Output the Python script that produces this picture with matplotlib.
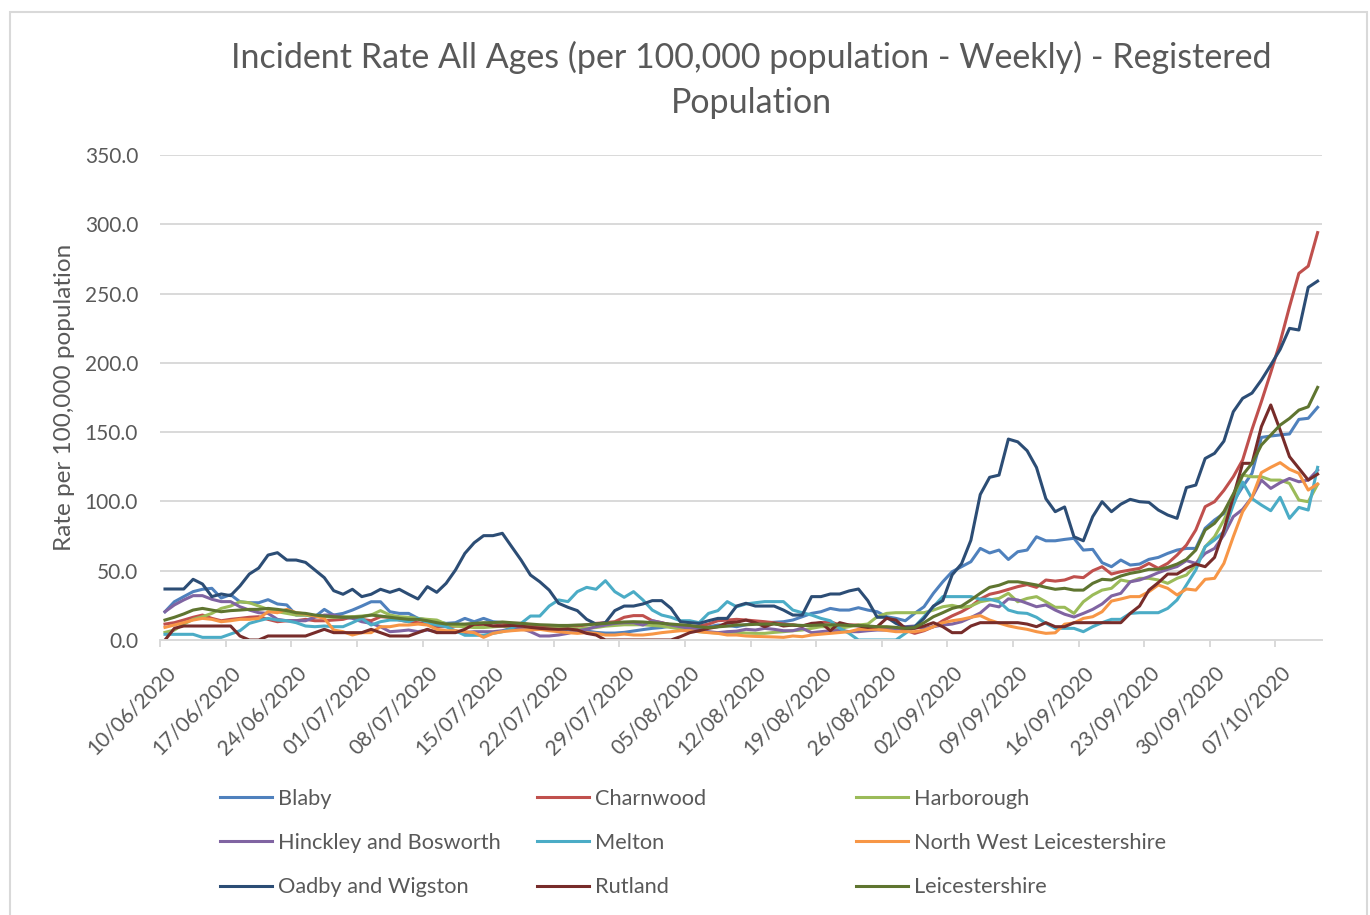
import numpy as np
import pandas as pd
import matplotlib.pyplot as plt
from matplotlib.patches import Rectangle
from matplotlib.ticker import FormatStrFormatter

plt.rcParams['font.family'] = ['Lato', 'DejaVu Sans']

# daily categories, 10/06/2020 .. 11/10/2020
dates = pd.date_range('2020-06-10', periods=124, freq='D')
date_labels = [d.strftime('%d/%m/%Y') for d in dates]

blaby = [20.4, 27.6, 31.3, 34.9, 36.6, 37.3, 30.3, 32.7, 27.6, 26.9,
         26.9, 29.1, 26.0, 25.3, 18.0, 18.0, 16.8, 22.1, 18.0, 19.2,
         21.6, 24.5, 27.6, 27.6, 20.4, 19.2, 19.2, 15.6, 14.4, 13.2,
         12.0, 12.5, 15.6, 13.2, 15.6, 13.2, 12.5, 11.5, 10.5, 9.5,
         8.5, 8.0, 8.0, 7.5, 7.0, 6.5, 5.5, 5.0, 5.0, 5.5,
         6.5, 7.5, 8.4, 9.0, 10.1, 9.6, 8.5, 9.0, 9.5, 10.8,
         10.5, 9.6, 11.0, 12.0, 12.5, 12.8, 13.2, 14.4, 16.8, 19.2,
         20.4, 22.8, 21.6, 21.6, 23.3, 21.6, 20.4, 16.8, 15.6, 13.9,
         19.2, 24.0, 33.7, 42.0, 49.3, 52.9, 56.5, 66.1, 62.8, 64.9,
         58.1, 63.7, 64.9, 74.5, 71.6, 71.6, 72.6, 73.4, 64.9, 65.4,
         55.8, 52.9, 57.7, 54.1, 54.8, 58.2, 59.6, 62.5, 64.9, 66.1,
         66.1, 80.6, 86.6, 91.3, 99.8, 110.6, 120.3, 146.2, 147.2, 148.0,
         148.7, 159.2, 160.0, 167.9]

charnwood = [11.5, 12.5, 14.4, 16.4, 18.0, 15.6, 13.9, 14.9, 15.6, 16.4,
             16.8, 14.9, 13.2, 13.9, 13.9, 14.9, 13.9, 13.9, 14.4, 14.9,
             16.8, 14.9, 13.9, 16.8, 16.4, 14.4, 13.2, 12.5, 11.5, 9.6,
             9.6, 10.0, 10.5, 11.0, 11.5, 10.0, 11.0, 12.0, 12.0, 11.0,
             10.0, 9.0, 9.0, 9.5, 10.0, 11.0, 12.0, 12.5, 13.2, 16.4,
             17.6, 17.6, 13.9, 12.5, 10.8, 10.1, 9.6, 10.1, 11.5, 13.9,
             14.4, 14.9, 14.4, 13.8, 13.2, 12.4, 11.5, 10.8, 10.1, 11.3,
             12.5, 13.2, 10.8, 10.8, 10.8, 9.6, 8.4, 8.4, 8.4, 7.2,
             4.8, 6.7, 9.6, 13.9, 17.4, 20.4, 24.3, 29.5, 33.0, 34.5,
             36.5, 38.5, 40.0, 38.0, 43.3, 42.5, 43.3, 45.7, 45.0, 50.0,
             52.9, 47.6, 49.3, 50.5, 51.7, 55.3, 51.7, 55.3, 61.3, 68.5,
             79.4, 96.2, 99.8, 108.0, 117.8, 129.9, 152.0, 172.0, 193.0, 215.0,
             240.5, 264.6, 269.8, 294.0]

harborough = [5.5, 7.2, 11.5, 14.9, 16.8, 19.2, 22.8, 24.5, 27.6, 26.9,
              24.5, 22.1, 20.4, 19.2, 18.0, 18.0, 16.8, 16.8, 16.4, 16.8,
              16.8, 17.3, 18.0, 21.2, 18.0, 16.8, 16.4, 15.6, 14.9, 14.4,
              11.5, 10.0, 9.5, 9.0, 9.0, 9.5, 10.0, 9.0, 8.0, 7.5,
              8.0, 8.5, 9.0, 8.5, 8.0, 8.5, 9.0, 10.0, 10.5, 11.0,
              11.0, 11.0, 10.5, 10.0, 9.0, 8.0, 7.0, 6.0, 5.5, 5.0,
              5.5, 5.5, 5.0, 4.8, 4.8, 5.5, 6.0, 6.7, 7.2, 8.4,
              9.6, 9.6, 8.4, 9.6, 10.8, 11.5, 16.8, 19.2, 19.7, 19.7,
              19.7, 19.7, 21.6, 24.0, 25.0, 23.5, 24.5, 27.6, 28.9, 30.0,
              33.7, 27.6, 30.0, 31.3, 27.6, 23.6, 23.6, 19.2, 27.6, 32.5,
              36.0, 37.3, 43.3, 42.0, 44.5, 44.5, 43.3, 40.9, 44.5, 46.9,
              54.1, 67.3, 74.5, 86.6, 101.0, 119.0, 117.8, 117.8, 115.4, 115.4,
              113.0, 101.0, 99.8, 112.3]

hinckley = [20.4, 25.3, 28.9, 32.0, 32.0, 29.4, 27.7, 27.7, 24.0, 21.6,
            19.7, 19.2, 14.9, 13.9, 13.9, 13.9, 16.4, 18.0, 18.0, 16.4,
            15.6, 13.2, 12.0, 9.6, 6.0, 6.5, 7.2, 6.0, 7.2, 6.0,
            6.0, 6.5, 5.3, 6.0, 6.0, 6.0, 6.7, 8.4, 8.4, 6.0,
            2.9, 2.9, 3.6, 4.8, 6.7, 7.7, 9.6, 10.8, 12.0, 12.5,
            12.5, 10.8, 13.9, 12.5, 10.8, 9.6, 8.4, 7.2, 6.0, 5.3,
            6.0, 6.4, 7.7, 7.2, 8.4, 7.7, 6.7, 6.7, 8.4, 5.3,
            6.0, 6.7, 7.2, 6.0, 6.0, 6.7, 7.2, 7.2, 7.7, 9.6,
            10.1, 8.4, 9.6, 10.8, 11.5, 13.2, 16.2, 19.5, 25.3, 23.9,
            29.7, 28.9, 26.5, 24.0, 25.3, 21.6, 18.6, 16.6, 19.2, 22.1,
            26.0, 31.8, 33.7, 42.0, 43.3, 45.7, 48.6, 51.0, 53.0, 57.3,
            55.3, 62.5, 66.1, 75.8, 89.0, 94.3, 103.0, 115.4, 109.4, 113.5,
            116.6, 114.2, 115.4, 122.6]

melton = [4.1, 4.1, 4.1, 4.1, 1.9, 1.9, 1.9, 4.3, 6.7, 12.0,
          13.9, 15.6, 14.4, 13.9, 12.5, 10.1, 9.6, 10.1, 9.6, 9.6,
          12.5, 15.6, 10.8, 13.2, 14.4, 14.4, 13.2, 15.6, 12.5, 10.8,
          9.6, 6.7, 3.4, 3.4, 3.4, 4.8, 6.0, 8.4, 12.0, 17.3,
          17.3, 24.5, 28.9, 27.7, 34.9, 38.0, 36.6, 42.8, 34.9, 30.8,
          34.9, 28.9, 21.6, 18.0, 16.4, 13.9, 13.9, 12.5, 19.2, 21.2,
          27.7, 24.0, 26.0, 26.9, 27.7, 27.7, 27.7, 21.6, 19.7, 18.0,
          15.6, 13.9, 8.4, 4.8, 0.0, 0.0, 0.0, 0.0, 0.0, 4.8,
          9.6, 16.8, 24.0, 31.3, 31.3, 31.3, 31.3, 29.4, 29.4, 27.7,
          21.6, 19.7, 19.2, 16.4, 12.0, 8.4, 8.4, 8.4, 6.0, 9.6,
          12.5, 14.9, 14.9, 19.2, 19.7, 19.7, 19.7, 22.8, 28.9, 39.7,
          50.5, 67.3, 72.2, 78.2, 97.4, 114.0, 102.0, 97.4, 93.3, 103.0,
          87.8, 95.7, 93.8, 124.6]

nw_leics = [9.1, 10.8, 12.5, 14.4, 15.6, 14.9, 13.2, 13.9, 14.9, 14.9,
            15.6, 20.4, 19.7, 22.1, 19.7, 18.8, 17.3, 15.6, 7.2, 6.0,
            3.6, 5.3, 5.3, 9.6, 9.6, 10.8, 10.8, 11.5, 10.8, 7.7,
            6.7, 6.7, 6.0, 5.3, 1.9, 4.8, 6.0, 6.7, 7.2, 7.2,
            7.7, 6.7, 6.0, 5.3, 4.8, 5.3, 4.8, 3.6, 3.6, 4.3,
            3.6, 3.6, 4.3, 5.3, 6.0, 6.7, 6.7, 6.0, 5.3, 4.8,
            3.6, 3.6, 2.9, 2.6, 2.4, 2.2, 1.9, 2.9, 2.4, 3.6,
            4.2, 4.8, 5.4, 6.0, 7.7, 7.7, 7.7, 6.9, 6.0, 6.0,
            6.0, 7.2, 9.6, 12.5, 13.9, 14.9, 16.4, 17.6, 14.4, 12.2,
            10.2, 8.8, 7.7, 6.0, 4.8, 5.2, 11.4, 12.3, 15.6, 16.8,
            20.4, 28.1, 29.6, 31.3, 31.3, 34.9, 39.7, 37.3, 32.5, 36.8,
            36.0, 43.8, 44.5, 55.3, 74.5, 92.6, 103.0, 120.8, 124.6, 128.0,
            123.2, 120.3, 108.2, 112.6]

oadby = [36.8, 36.8, 36.8, 43.8, 40.4, 31.3, 33.2, 32.0, 39.0, 47.6,
         51.9, 61.3, 63.0, 57.7, 57.7, 56.0, 50.5, 45.0, 35.6, 33.0,
         36.6, 31.3, 33.0, 36.6, 34.4, 36.6, 33.0, 29.6, 38.5, 34.4,
         40.9, 50.5, 62.5, 70.2, 75.3, 75.3, 77.0, 67.3, 57.7, 46.9,
         42.0, 36.0, 26.5, 23.6, 21.2, 14.9, 11.5, 12.5, 21.2, 24.5,
         24.5, 26.0, 28.4, 28.4, 22.8, 13.2, 12.5, 12.0, 13.9, 15.6,
         15.6, 24.5, 26.5, 24.5, 24.5, 24.5, 21.6, 18.0, 18.0, 31.3,
         31.3, 33.2, 33.2, 35.4, 36.8, 28.4, 16.4, 16.4, 12.0, 9.1,
         9.5, 15.6, 24.5, 28.4, 47.0, 55.0, 72.0, 105.0, 117.4, 119.0,
         145.0, 143.0, 136.6, 124.5, 102.0, 92.6, 96.0, 74.5, 71.6, 89.0,
         99.8, 92.6, 98.0, 101.5, 99.8, 99.3, 93.8, 90.2, 87.8, 110.0,
         111.8, 131.0, 134.7, 143.5, 164.7, 174.4, 178.2, 187.6, 198.4, 209.7,
         224.9, 223.7, 254.5, 259.0]

rutland = [0.0, 8.4, 10.1, 10.1, 10.1, 10.1, 10.1, 10.1, 2.9, 0.0,
           0.0, 2.9, 2.9, 2.9, 2.9, 2.9, 5.3, 7.7, 5.3, 5.3,
           5.3, 5.3, 7.7, 5.3, 2.9, 2.9, 2.9, 5.3, 7.7, 5.3,
           5.3, 5.3, 7.7, 11.5, 11.5, 10.1, 10.1, 10.5, 10.1, 9.1,
           8.4, 8.0, 7.7, 8.0, 7.2, 4.8, 3.6, 0.0, 0.0, 0.0,
           0.0, 0.0, 0.0, 0.0, 0.0, 2.4, 5.3, 6.7, 8.4, 9.6,
           12.5, 12.8, 14.4, 12.5, 9.6, 12.0, 10.1, 10.8, 10.1, 12.0,
           12.5, 6.7, 12.5, 10.8, 10.1, 9.1, 9.6, 15.6, 14.4, 8.4,
           8.4, 10.1, 12.5, 9.6, 5.3, 5.3, 10.1, 12.5, 12.5, 12.5,
           12.5, 12.5, 11.5, 9.6, 12.5, 9.6, 9.6, 12.5, 12.5, 12.5,
           12.5, 12.5, 12.5, 19.2, 24.5, 36.0, 41.4, 47.6, 47.6, 51.7,
           54.8, 52.9, 59.6, 79.4, 103.4, 127.5, 127.5, 154.0, 169.6, 151.5,
           132.3, 123.9, 115.4, 119.7]

leics = [14.4, 16.4, 18.8, 21.6, 22.8, 21.6, 20.4, 21.2, 21.6, 22.1,
         22.1, 22.8, 22.1, 21.2, 19.7, 19.2, 18.0, 17.3, 16.8, 16.4,
         16.4, 16.8, 18.0, 17.3, 16.4, 15.6, 14.9, 14.9, 13.9, 12.5,
         11.5, 11.5, 11.5, 12.0, 12.5, 12.5, 13.0, 12.5, 12.0, 11.5,
         11.0, 10.8, 10.5, 10.5, 10.8, 11.0, 11.5, 12.0, 12.5, 13.0,
         13.2, 13.0, 12.5, 12.0, 11.5, 11.0, 10.5, 9.5, 9.0, 9.5,
         10.0, 10.8, 11.0, 11.3, 11.5, 11.5, 11.0, 10.8, 10.5, 10.5,
         10.8, 11.0, 10.8, 10.5, 10.5, 10.1, 9.6, 9.6, 9.1, 8.4,
         9.0, 12.5, 16.8, 19.7, 22.8, 24.5, 28.9, 33.7, 38.0, 39.5,
         42.0, 42.0, 40.9, 39.7, 38.0, 36.6, 37.3, 36.0, 36.0, 40.9,
         43.8, 43.3, 46.2, 48.1, 49.3, 51.0, 51.0, 52.4, 54.8, 58.2,
         64.9, 79.4, 84.2, 92.6, 105.3, 119.0, 127.5, 140.7, 147.9, 155.1,
         159.9, 165.9, 168.3, 182.3]

names = ['Blaby', 'Charnwood', 'Harborough', 'Hinckley and Bosworth', 'Melton',
         'North West Leicestershire', 'Oadby and Wigston', 'Rutland', 'Leicestershire']
values = [blaby, charnwood, harborough, hinckley, melton, nw_leics, oadby, rutland, leics]
colors = ['#4F81BD', '#C0504D', '#9BBB59', '#8064A2', '#4BACC6',
          '#F79646', '#2C4D75', '#772C2A', '#5F7530']

W, H = 1370, 915
grey = '#595959'
light = '#D9D9D9'

fig = plt.figure(figsize=(W / 100, H / 100), dpi=100)
ax = fig.add_axes([160.3 / W, 1 - 640 / H, 1162 / W, 485 / H])

x = np.arange(len(dates))
for name, v, c in zip(names, values, colors):
    ax.plot(x, v, color=c, lw=2.2, label=name, solid_joinstyle='round')

ax.set_xlim(-0.5, len(x) - 0.5)
ax.set_ylim(0, 350)
ax.set_yticks(np.arange(0, 351, 50))
ax.yaxis.set_major_formatter(FormatStrFormatter('%.1f'))
ax.set_xticks(x[::7])
ax.set_xticklabels(date_labels[::7], rotation=45, ha='right', va='top',
                   rotation_mode='anchor')
ax.set_xticks(np.arange(-0.5, len(x) - 1, 7), minor=True)
ax.tick_params(axis='x', which='major', length=0, pad=16, labelsize=15, labelcolor=grey)
ax.tick_params(axis='x', which='minor', length=5, width=1.4, color=light)
ax.tick_params(axis='y', length=0, pad=16, labelsize=15, labelcolor=grey)
ax.grid(axis='y', color=light, lw=1.4)
ax.set_axisbelow(True)
for s in ['top', 'right', 'left']:
    ax.spines[s].set_visible(False)
ax.spines['bottom'].set_color(light)
ax.spines['bottom'].set_linewidth(1.4)

ax.set_ylabel('Rate per 100,000 population', fontsize=17.5, color=grey)
ax.yaxis.set_label_coords((75 - 160.3) / 1162, 0.5)

fig.text(751 / W, 1 - 80 / H,
         'Incident Rate All Ages (per 100,000 population - Weekly) - Registered\nPopulation',
         ha='center', va='center', fontsize=24.5, color=grey, linespacing=1.52)

# legend: three columns of three
lines = ax.get_lines()
for col, x0 in zip([[0, 3, 6], [1, 4, 7], [2, 5, 8]], [220, 537, 856]):
    fig.legend([lines[i] for i in col], [names[i] for i in col],
               loc='center left', bbox_to_anchor=(x0 / W, 1 - 843 / H),
               frameon=False, borderpad=0, borderaxespad=0,
               handlelength=2.4, handletextpad=0.25, labelspacing=1.12,
               fontsize=15.7, labelcolor=grey)

fig.add_artist(Rectangle((10 / W, -0.05), 1357 / W, 1 - 12 / H + 0.05,
                         transform=fig.transFigure, fill=False,
                         edgecolor=light, lw=1.5))

fig.savefig('out.png', dpi=100)
